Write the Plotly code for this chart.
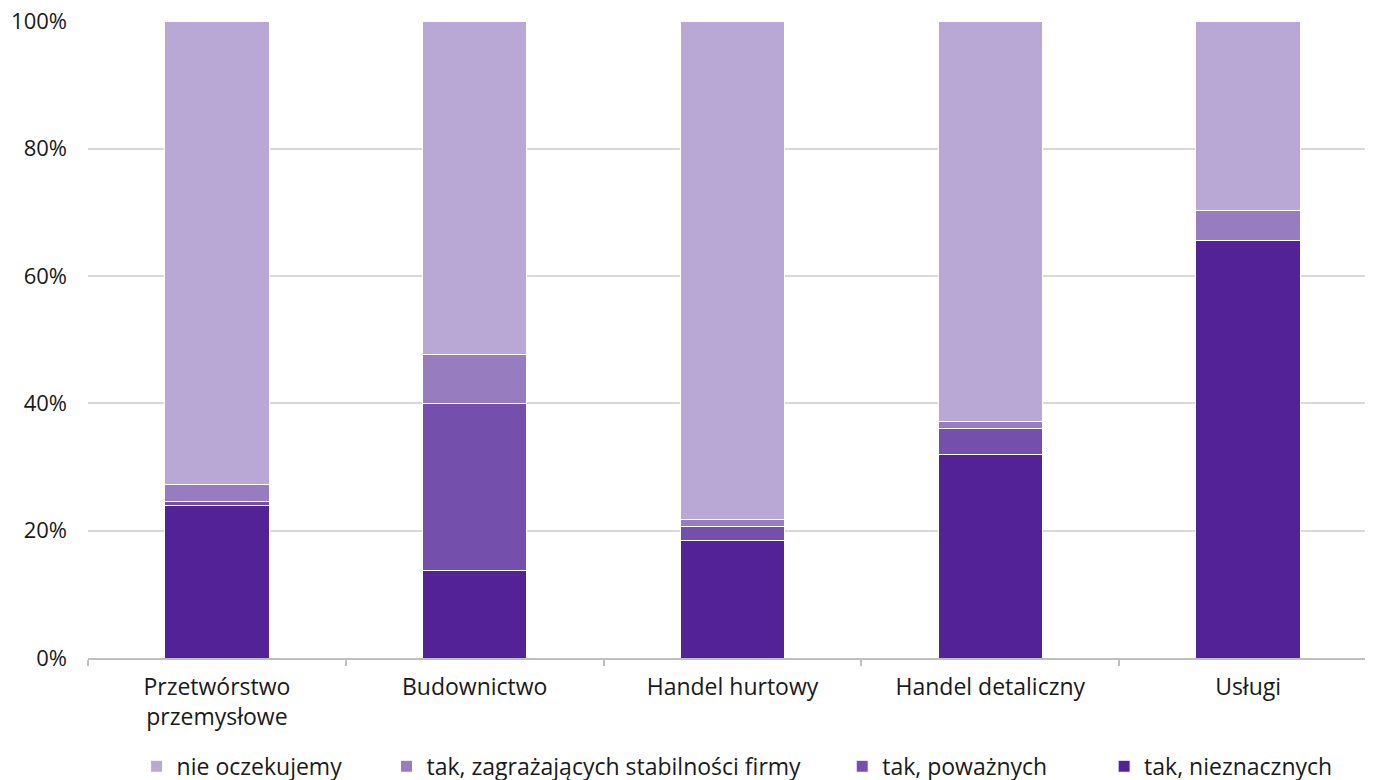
import plotly.graph_objects as go

categories = ["Przetwórstwo<br>przemysłowe", "Budownictwo", "Handel hurtowy", "Handel detaliczny", "Usługi"]
series_names = ["tak, nieznacznych", "tak, poważnych", "tak, zagrażających stabilności firmy", "nie oczekujemy"]
nieznacznych = [23.9, 13.8, 18.4, 31.9, 65.6]
powaznych = [0.7, 26.2, 2.2, 4.1, 0.0]
zagrazajacych = [2.6, 7.7, 1.2, 1.2, 4.6]
nie_oczekujemy = [72.8, 52.3, 78.2, 62.8, 29.8]
y_ticks = [0, 20, 40, 60, 80, 100]
y_tick_labels = ["0%", "20%", "40%", "60%", "80%", "100%"]
colors = ["#522296", "#744FAB", "#977DC0", "#B9A8D6"]

# legend slots (one legend per series, placed left-to-right as in reference)
legend_ids = ["legend4", "legend3", "legend2", "legend"]
legend_x = [0.7883, 0.5851, 0.2316, 0.0377]

fig = go.Figure()
for name, vals, col, lid in zip(series_names, [nieznacznych, powaznych, zagrazajacych, nie_oczekujemy], colors, legend_ids):
    fig.add_trace(go.Bar(x=categories, y=vals, name=name, legend=lid,
                         marker=dict(color=col, line=dict(color="white", width=1))))

layout_legends = {}
for lid, lx in zip(legend_ids, legend_x):
    layout_legends[lid] = dict(orientation="h", x=lx, xanchor="left", y=-0.17, yanchor="middle",
                               font=dict(size=23), itemwidth=30, bgcolor="rgba(0,0,0,0)", borderwidth=0)

fig.update_layout(
    barmode="stack",
    bargap=0.595,
    width=1373, height=780,
    margin=dict(l=80, r=4, t=13, b=130, autoexpand=False),
    paper_bgcolor="white", plot_bgcolor="white",
    font=dict(family="Open Sans", size=22, color="#1a1a1a"),
    showlegend=True,
    **layout_legends,
)
fig.update_yaxes(range=[0, 100.02], tickvals=y_ticks, ticktext=y_tick_labels,
                 showgrid=True, gridcolor="#D9D9D9", gridwidth=1.5, zeroline=False,
                 ticks="", ticklabelstandoff=20, ticklabeloverflow="allow")
fig.update_xaxes(showline=True, linecolor="#BFBFBF", linewidth=1.5, ticks="outside", tickson="boundaries",
                 ticklen=6, tickcolor="#BFBFBF", tickwidth=1.5, ticklabelstandoff=8,
                 tickfont=dict(size=23))

fig.write_html("out.html")
